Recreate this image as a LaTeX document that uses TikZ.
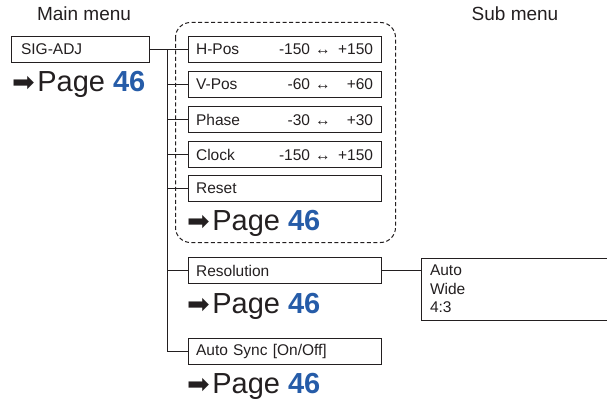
\documentclass[tikz,border=0pt]{standalone}
\usepackage{fontspec}
\setmainfont{Liberation Sans}
\newfontfamily\dingfont{DejaVu Sans}
\usetikzlibrary{positioning}

\definecolor{pageblue}{RGB}{38,92,168}
\definecolor{inkgray}{RGB}{35,31,32}

\newcommand{\seepage}[1]{{\dingfont\fontsize{27}{29}\selectfont ➡}\hspace{2.5pt}Page \textbf{\color{pageblue}#1}}
\newcommand{\valrange}[2]{\makebox[2.4em][r]{#1} ↔ \makebox[2.4em][r]{#2}}

\begin{document}
\begin{tikzpicture}[x=1pt,y=-1pt,inkgray,
  menubox/.style={draw,line width=1.2pt,anchor=west,minimum height=26pt,
    text width=177pt,inner xsep=8pt,align=left,font=\fontsize{15.5}{17}\selectfont},
  pagelink/.style={anchor=base west,inner sep=0pt,font=\fontsize{29}{31}\selectfont},
  heading/.style={font=\fontsize{19}{21}\selectfont}]
  \useasboundingbox (0,0) rectangle (607,403);

  % headings
  \node[heading] (mainhead) at (84,14) {Main menu};
  \node[heading] (subhead) at (515,14) {Sub menu};

  % main menu item
  \node[menubox,text width=118pt,inner xsep=10pt] (sigadj) at (10.5,49.5) {SIG-ADJ};
  \node[pagelink] (sigpage) at (12,92) {\seepage{46}};

  % group of adjustments
  \draw[line width=1pt,dash pattern=on 4pt off 2.5pt,rounded corners=15pt] (175.5,22.5) rectangle (395.5,242.5);
  \node[menubox] (hpos) at (187.5,49.5) {H-Pos\hfill\valrange{-150}{+150}};
  \node[menubox] (vpos) at (187.5,84.5) {V-Pos\hfill\valrange{-60}{+60}};
  \node[menubox] (phase) at (187.5,119.5) {Phase\hfill\valrange{-30}{+30}};
  \node[menubox] (clock) at (187.5,154.5) {Clock\hfill\valrange{-150}{+150}};
  \node[menubox] (reset) at (187.5,188.5) {Reset};
  \node[pagelink] (grppage) at (187,230) {\seepage{46}};

  \node[menubox] (resol) at (187.5,270.5) {Resolution};
  \node[pagelink] (respage) at (187,313) {\seepage{46}};

  \node[menubox] (autosync) at (187.5,351.5) {Auto Sync [On/Off]};
  \node[pagelink] (syncpage) at (187,393) {\seepage{46}};

  % sub menu
  \node[draw,line width=1pt,anchor=north west,minimum height=62pt,text width=180pt,
    inner xsep=9pt,align=left,font=\fontsize{15.5}{18.5}\selectfont] (resmenu) at (420.5,257.5) {Auto\\Wide\\4:3};

  % tree lines
  \coordinate (trunk) at (167.5,49.5);
  \draw[line width=1.3pt] (sigadj.east |- hpos.west) -- (hpos.west);
  \draw[line width=1.3pt] (trunk) |- (autosync.west);
  \draw[line width=1.3pt] (trunk |- vpos.west) -- (vpos.west);
  \draw[line width=1.3pt] (trunk |- phase.west) -- (phase.west);
  \draw[line width=1.3pt] (trunk |- clock.west) -- (clock.west);
  \draw[line width=1.3pt] (trunk |- reset.west) -- (reset.west);
  \draw[line width=1.3pt] (trunk |- resol.west) -- (resol.west);
  \draw[line width=1pt] (resol.east) -- (resol.east -| resmenu.west);
\end{tikzpicture}
\end{document}
